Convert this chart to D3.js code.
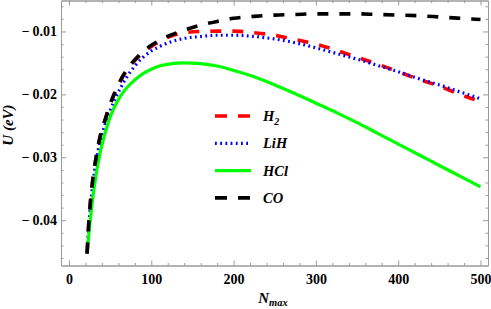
<!DOCTYPE html>
<html>
<head>
<meta charset="utf-8">
<script src="https://cdn.jsdelivr.net/npm/d3@7"></script>
<style>
  html, body { margin: 0; padding: 0; background: #fff; }
  svg { display: block; }
  .serif { font-family: "Liberation Serif", "Times New Roman", serif; font-weight: bold; }
</style>
</head>
<body>
<svg id="chart" width="491" height="309"></svg>
<script>
// ---- data ----
const nmax = [22,24,26,29,33,38,44,50,56,63,70,80,90,100,110,125,140,160,180,200,225,250,275,300,325,350,375,400,425,450,475,500];
const uH2  = [-0.0453,-0.0406,-0.0372,-0.0335,-0.0300,-0.0266,-0.0240,-0.0216,-0.0196,-0.0177,-0.0162,-0.0146,-0.0134,-0.0124,-0.0116,-0.0107,-0.0102,-0.0100,-0.00995,-0.00995,-0.0102,-0.0106,-0.0113,-0.0120,-0.0130,-0.0141,-0.0152,-0.0164,-0.0176,-0.0187,-0.0200,-0.0211];
const uLiH = [-0.0453,-0.0410,-0.0378,-0.0342,-0.0306,-0.0274,-0.0247,-0.0226,-0.0207,-0.0189,-0.0173,-0.0155,-0.0141,-0.0131,-0.0124,-0.0116,-0.0111,-0.0108,-0.0106,-0.0106,-0.0108,-0.0112,-0.0118,-0.0126,-0.0135,-0.0144,-0.0154,-0.0164,-0.0175,-0.0185,-0.0196,-0.0207];
const uHCl = [-0.0453,-0.0424,-0.0398,-0.0364,-0.0327,-0.0292,-0.0261,-0.0236,-0.0218,-0.0202,-0.0190,-0.0177,-0.0167,-0.0160,-0.0155,-0.0151,-0.0150,-0.0151,-0.0155,-0.0162,-0.0172,-0.0185,-0.0199,-0.0214,-0.0229,-0.0245,-0.0262,-0.0279,-0.0296,-0.0313,-0.0330,-0.0347];
const uCO  = [-0.0453,-0.0406,-0.0372,-0.0335,-0.0300,-0.0266,-0.0240,-0.0216,-0.0196,-0.0177,-0.0161,-0.0145,-0.0132,-0.0122,-0.0114,-0.0105,-0.0098,-0.0090,-0.0084,-0.0079,-0.0076,-0.0074,-0.0073,-0.0072,-0.0072,-0.0072,-0.0073,-0.0074,-0.0075,-0.0077,-0.0079,-0.0081];

const seriesNames = ["H", "LiH", "HCl", "CO"];
const seriesSubs  = ["2", "", "", ""];
const xTicks = [0, 100, 200, 300, 400, 500];
const xTickLabels = ["0", "100", "200", "300", "400", "500"];
const yTicks = [-0.01, -0.02, -0.03, -0.04];
const yTickLabels = ["\u2212\u20090.01", "\u2212\u20090.02", "\u2212\u20090.03", "\u2212\u20090.04"];

// ---- layout ----
const svg = d3.select("#chart");
const L = 61, R = 488, T = 0.5, B = 265.5;
const x = d3.scaleLinear().domain([-9.7, 509.1]).range([L, R]);
const y = d3.scaleLinear().domain([-0.0472, -0.00508]).range([B, T]);

const frameColor = "#9a9a9a";

// minor ticks
const xMinor = d3.range(0, 501, 20).filter(v => xTicks.indexOf(v) < 0);
const yMinor = d3.range(-0.046, -0.005, 0.002).map(v => +v.toFixed(3)).filter(v => !yTicks.some(t => Math.abs(t - v) < 1e-9));

function styleAxis(g) {
  g.select(".domain").attr("stroke", frameColor).attr("stroke-width", 1);
  g.selectAll(".tick line").attr("stroke", frameColor).attr("stroke-width", 1);
  g.selectAll("text").attr("class", "serif").attr("fill", "#000").style("font-size", "14px");
}

// bottom
svg.append("g").attr("transform", `translate(0,${B})`)
  .call(d3.axisBottom(x).tickValues(xMinor).tickSizeInner(-2.5).tickSizeOuter(0).tickFormat(""))
  .call(styleAxis);
svg.append("g").attr("transform", `translate(0,${B})`)
  .call(d3.axisBottom(x).tickValues(xTicks).tickSizeInner(-5).tickSizeOuter(0).tickPadding(9)
        .tickFormat((d, i) => xTickLabels[i]))
  .call(styleAxis);
// top
svg.append("g").attr("transform", `translate(0,${T})`)
  .call(d3.axisTop(x).tickValues(xMinor).tickSizeInner(-2.5).tickSizeOuter(0).tickFormat(""))
  .call(styleAxis);
svg.append("g").attr("transform", `translate(0,${T})`)
  .call(d3.axisTop(x).tickValues(xTicks).tickSizeInner(-5).tickSizeOuter(0).tickFormat(""))
  .call(styleAxis);
// left
svg.append("g").attr("transform", `translate(${L},0)`)
  .call(d3.axisLeft(y).tickValues(yMinor).tickSizeInner(-2.5).tickSizeOuter(0).tickFormat(""))
  .call(styleAxis);
svg.append("g").attr("transform", `translate(${L},0)`)
  .call(d3.axisLeft(y).tickValues(yTicks).tickSizeInner(-5).tickSizeOuter(0).tickPadding(4)
        .tickFormat((d, i) => yTickLabels[i]))
  .call(styleAxis);
// right
svg.append("g").attr("transform", `translate(${R},0)`)
  .call(d3.axisRight(y).tickValues(yMinor).tickSizeInner(-2.5).tickSizeOuter(0).tickFormat(""))
  .call(styleAxis);
svg.append("g").attr("transform", `translate(${R},0)`)
  .call(d3.axisRight(y).tickValues(yTicks).tickSizeInner(-5).tickSizeOuter(0).tickFormat(""))
  .call(styleAxis);

// ---- curves ----
const series = [
  { vals: uH2,  color: "#ff0000", dash: "11,11", width: 3.6 },
  { vals: uLiH, color: "#0000ff", dash: "1.8,3.4", width: 3.2 },
  { vals: uHCl, color: "#00ff00", dash: null, width: 3.2 },
  { vals: uCO,  color: "#000000", dash: "11,11", width: 3.6 }
];
const line = d3.line().curve(d3.curveMonotoneX)
  .x(d => x(d[0])).y(d => y(d[1]));

const plot = svg.append("g");
plot.append("clipPath").attr("id", "clip").append("rect")
  .attr("x", L).attr("y", T).attr("width", R - L).attr("height", B - T);
series.forEach(s => {
  plot.append("path")
    .attr("d", line(nmax.map((n, i) => [n, s.vals[i]])))
    .attr("fill", "none")
    .attr("stroke", s.color)
    .attr("stroke-width", s.width)
    .attr("stroke-dasharray", s.dash)
    .attr("clip-path", "url(#clip)");
});

// ---- legend ----
const leg = svg.append("g").attr("transform", "translate(215,116)");
series.forEach((s, i) => {
  const g = leg.append("g").attr("transform", `translate(0,${i * 27.3})`);
  g.append("line").attr("x1", 0).attr("x2", 36).attr("y1", 0).attr("y2", 0)
    .attr("stroke", s.color).attr("stroke-width", s.width)
    .attr("stroke-dasharray", s.dash ? (i === 1 ? "1.8,3.4" : "12,11") : null);
  const t = g.append("text").attr("class", "serif").attr("x", 48).attr("y", 5)
    .style("font-size", "14.5px").style("font-style", "italic").text(seriesNames[i]);
  if (seriesSubs[i]) {
    t.append("tspan").attr("dy", 4).style("font-size", "10px").text(seriesSubs[i]);
  }
});

// ---- axis titles ----
const xt = svg.append("text").attr("class", "serif").attr("x", 273).attr("y", 303)
  .attr("text-anchor", "middle").style("font-size", "15px").style("font-style", "italic");
xt.append("tspan").text("N");
xt.append("tspan").attr("dy", 3).style("font-size", "10.5px").text("max");

svg.append("text").attr("class", "serif")
  .attr("transform", "translate(13,125) rotate(-90)")
  .attr("text-anchor", "middle").style("font-size", "15px").style("font-style", "italic")
  .text("U (eV)");
</script>
</body>
</html>
